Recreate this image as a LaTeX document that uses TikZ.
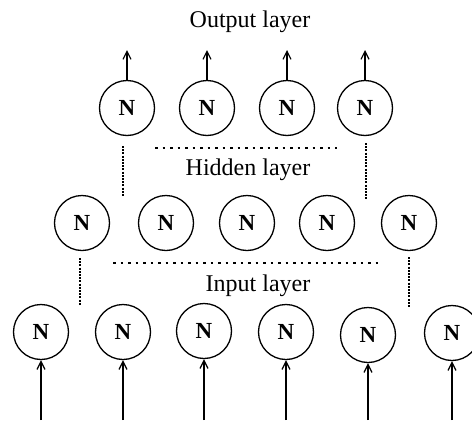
\documentclass[tikz,border=0pt]{standalone}
\usepackage{fontspec}
\setmainfont{Liberation Serif}
\usetikzlibrary{arrows.meta}
\begin{document}
\begin{tikzpicture}[x=1pt,y=-1pt,
  neuron/.style={circle,draw,line width=1.3pt,minimum size=55pt,inner sep=0pt,
    font=\fontsize{23}{23}\selectfont\bfseries},
  lbl/.style={font=\fontsize{24}{26}\selectfont},
  signal/.style={line width=1.5pt,-{Straight Barb[length=8pt,width=8pt,line width=1.2pt]}},
  hdots/.style={line width=1.6pt,dash pattern=on 2.5pt off 5pt},
  vdots/.style={line width=2pt,dash pattern=on 2pt off 1.2pt}]
\useasboundingbox (0,0) rectangle (472,421);
% output layer
\node[lbl] (tout) at (250,22) {Output layer};
\foreach \i/\x in {1/127,2/207,3/287,4/365}{
  \node[neuron] (o\i) at (\x,108) {N};
  \coordinate (oe\i) at (\x,50);
  \draw[signal] (o\i.north) -- (oe\i);
}
% hidden layer
\coordinate (h1a) at (155,148); \coordinate (h1b) at (337,148);
\draw[hdots] (h1a) -- (h1b);
\node[lbl] (thid) at (248,170) {Hidden layer};
\foreach \i/\x in {1/82,2/166,3/247,4/327,5/409}{
  \node[neuron] (h\i) at (\x,223) {N};
}
\coordinate (vl1) at (123,146); \coordinate (vl2) at (123,196);
\coordinate (vr1) at (366,143); \coordinate (vr2) at (366,199);
\draw[vdots] (vl1) -- (vl2);
\draw[vdots] (vr1) -- (vr2);
% input layer
\coordinate (i1a) at (113,263); \coordinate (i1b) at (378,263);
\draw[hdots] (i1a) -- (i1b);
\node[lbl] (tin) at (258,286) {Input layer};
\coordinate (wl1) at (80,258); \coordinate (wl2) at (80,305);
\coordinate (wr1) at (409,257); \coordinate (wr2) at (409,307);
\draw[vdots] (wl1) -- (wl2);
\draw[vdots] (wr1) -- (wr2);
\foreach \i/\x/\y in {1/41/332,2/123/332,3/204/331,4/286/332,5/368/335,6/452/333}{
  \node[neuron] (n\i) at (\x,\y) {N};
  \coordinate (ns\i) at (\x,420);
  \draw[signal] (ns\i) -- (n\i.south);
}
\end{tikzpicture}
\end{document}
